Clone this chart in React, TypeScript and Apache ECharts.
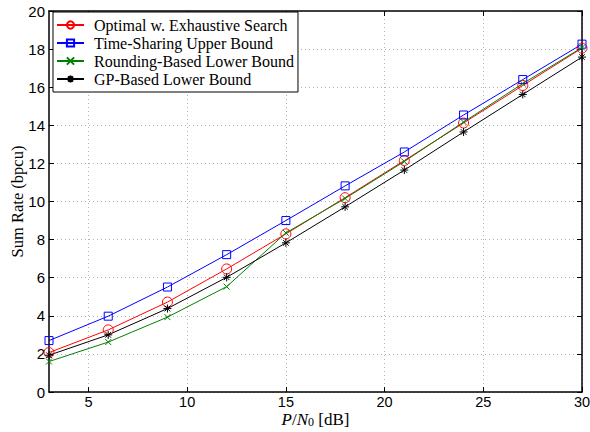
import React, { useEffect, useRef } from "react";
import * as echarts from "echarts";

const snr = [3, 6, 9, 12, 15, 18, 21, 24, 27, 30];
const optimal = [2.07, 3.26, 4.72, 6.46, 8.3, 10.2, 12.15, 14.12, 16.09, 18.05];
const timeSharing = [2.7, 3.98, 5.51, 7.21, 9.0, 10.82, 12.6, 14.54, 16.4, 18.26];
const rounding = [1.6, 2.62, 3.93, 5.53, 8.35, 10.16, 12.1, 14.17, 16.19, 18.08];
const gpBased = [1.93, 3.0, 4.38, 6.02, 7.83, 9.72, 11.65, 13.65, 15.62, 17.58];
const xTicks = [5, 10, 15, 20, 25, 30];
const seriesNames = [
  "Optimal w. Exhaustive Search",
  "Time-Sharing Upper Bound",
  "Rounding-Based Lower Bound",
  "GP-Based Lower Bound",
];

const crossPath = "path://M0,0L10,10M0,10L10,0";
const starPath = "path://M5,0L5,10M0,5L10,5M1.5,1.5L8.5,8.5M1.5,8.5L8.5,1.5";

export default function App() {
  const ref = useRef<HTMLDivElement>(null);
  useEffect(() => {
    if (!ref.current) return;
    const chart = echarts.init(ref.current, undefined, { renderer: "svg" });
    const mk = (name: string, data: number[], color: string, symbol: string, size: number) => ({
      name,
      type: "line",
      data: snr.map((x, i) => [x, data[i]]),
      symbol,
      symbolSize: size,
      showAllSymbol: true,
      lineStyle: { color, width: 1 },
      itemStyle: { color: "none", borderColor: color, borderWidth: 1 },
      emphasis: { disabled: true },
    });
    const axisLine = { show: true, onZero: false, lineStyle: { color: "#000", width: 1.5 } };
    const tickStyle = { show: true, inside: true, length: 5, lineStyle: { color: "#000", width: 1 } };
    const labelFont = { fontFamily: "Liberation Sans", fontSize: 15, color: "#000" };
    chart.setOption({
      animation: false,
      backgroundColor: "#fff",
      grid: { left: 49, right: 8, top: 11, bottom: 40, containLabel: false, outerBoundsMode: "none" },
      legend: {
        orient: "vertical",
        left: 53,
        top: 12,
        itemWidth: 27,
        itemHeight: 9,
        itemGap: 0,
        padding: [4, 4, 4, 3],
        backgroundColor: "#fff",
        borderColor: "#000",
        borderWidth: 1,
        borderRadius: 0,
        textStyle: {
          fontFamily: "Liberation Serif",
          fontSize: 16,
          lineHeight: 18,
          color: "#000",
          padding: [0, 0, 0, 5],
        },
        data: seriesNames,
      },
      xAxis: [
        {
          type: "value",
          min: 3,
          max: 30,
          name: "{i|P}{n|/}{i|N}{s|0} {n|[dB]}",
          nameLocation: "middle",
          nameGap: 20,
          nameMoveOverlap: false,
          nameTextStyle: {
            rich: {
              i: { fontFamily: "Liberation Serif", fontSize: 17, lineHeight: 14, fontStyle: "italic", color: "#000" },
              n: { fontFamily: "Liberation Serif", fontSize: 17, lineHeight: 14, color: "#000" },
              s: { fontFamily: "Liberation Serif", fontSize: 12, lineHeight: 8, color: "#000", padding: [6, 1, 0, 0] },
            },
          },
          axisLine,
          axisTick: { ...tickStyle, customValues: xTicks },
          axisLabel: { ...labelFont, fontSize: 14.5, lineHeight: 12, margin: 4, customValues: xTicks },
          splitLine: { show: true, lineStyle: { color: "#b0b0b0", type: [1, 3], width: 1 } },
        },
        {
          type: "value",
          position: "top",
          min: 3,
          max: 30,
          axisLine,
          axisTick: { ...tickStyle, customValues: xTicks },
          axisLabel: { show: false, customValues: xTicks },
          splitLine: { show: false },
        },
      ],
      yAxis: [
        {
          type: "value",
          min: 0,
          max: 20,
          interval: 2,
          name: "Sum Rate (bpcu)",
          nameLocation: "middle",
          nameGap: 23,
          nameMoveOverlap: false,
          nameTextStyle: { fontFamily: "Liberation Serif", fontSize: 16.5, color: "#000" },
          axisLine,
          axisTick: tickStyle,
          axisLabel: { ...labelFont, margin: 4 },
          splitLine: { show: true, lineStyle: { color: "#b0b0b0", type: [1, 3], width: 1 } },
        },
        {
          type: "value",
          position: "right",
          min: 0,
          max: 20,
          interval: 2,
          axisLine,
          axisTick: tickStyle,
          axisLabel: { show: false },
          splitLine: { show: false },
        },
      ],
      series: [
        mk(seriesNames[0], optimal, "#ff0000", "circle", 10),
        mk(seriesNames[1], timeSharing, "#0000ff", "rect", 8),
        mk(seriesNames[2], rounding, "#008000", crossPath, 6),
        mk(seriesNames[3], gpBased, "#000000", starPath, 8),
      ],
    });
    return () => chart.dispose();
  }, []);
  return (
    <div
      ref={ref}
      style={{ position: "fixed", left: 0, top: 0, width: 590, height: 432 }}
    />
  );
}
